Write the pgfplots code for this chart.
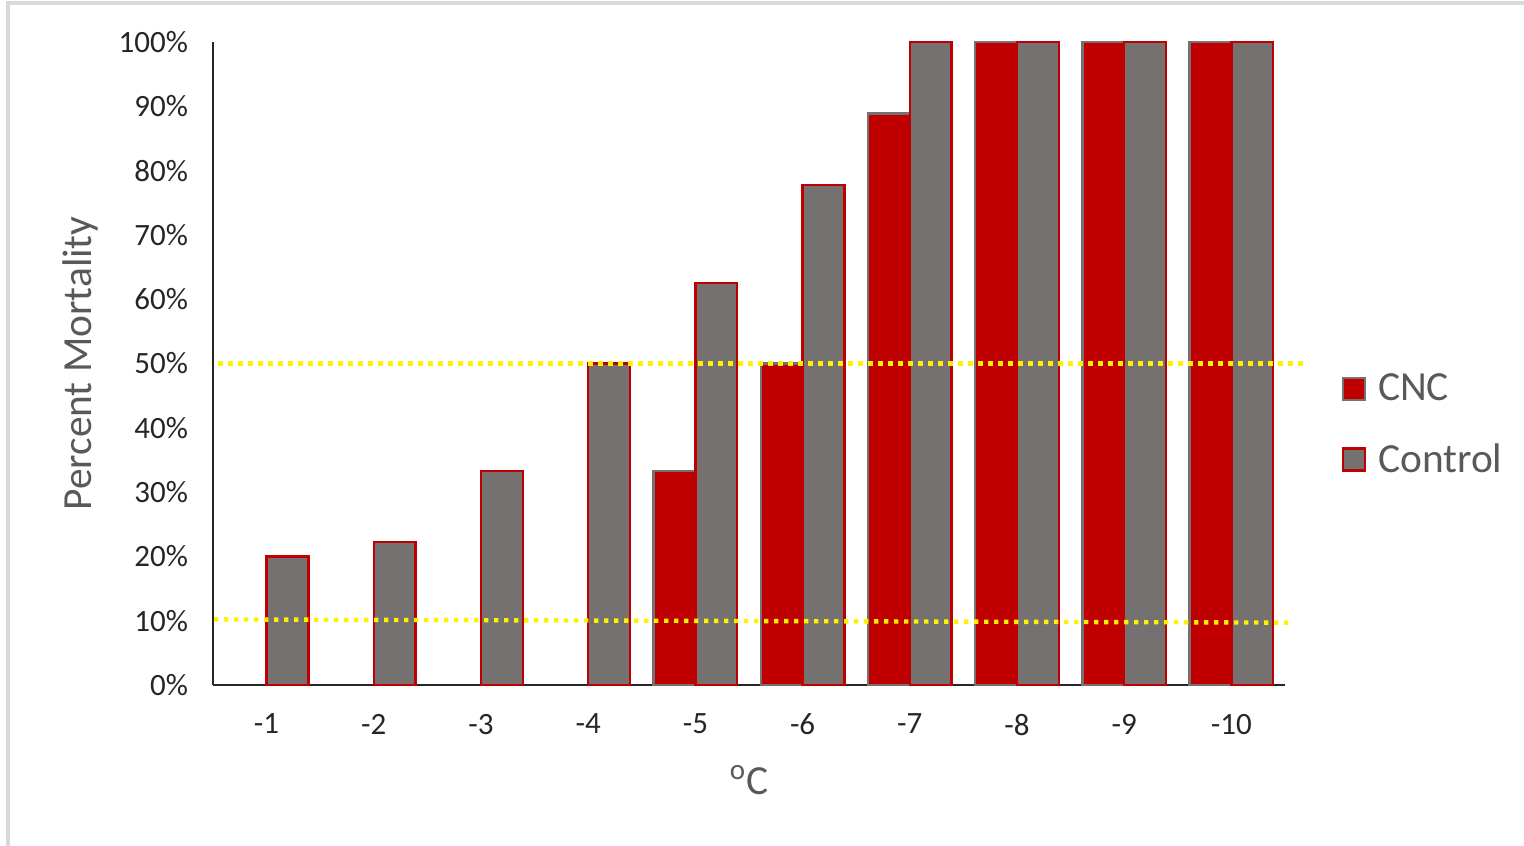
\documentclass[border=0pt]{standalone}
\usepackage{fontspec}
\setmainfont{Carlito}
\usepackage{pgfplots}
\pgfplotsset{compat=1.18}
\definecolor{cncred}{HTML}{C00000}
\definecolor{ctrlgray}{HTML}{767171}
\definecolor{labgray}{HTML}{595959}
\definecolor{ticktxt}{HTML}{262626}
\definecolor{framegray}{HTML}{D9D9D9}
\begin{document}
\begin{tikzpicture}
\begin{axis}[
    name=ax,
    at={(0,0)}, anchor=south west,
    scale only axis,
    width=536bp, height=321.5bp,
    ybar, bar width=0.39,
    xmin=-0.5, xmax=9.5,
    ymin=0, ymax=100,
    xtick={0,...,9},
    xticklabels={-1,-2,-3,-4,-5,-6,-7,-8,-9,-10},
    ytick={0,10,...,100},
    yticklabel={\pgfmathprintnumber{\tick}\%},
    /pgf/number format/assume math mode=true,
    major tick length=0pt,
    axis x line*=bottom, axis y line*=left,
    axis line style={black!85, line width=0.8bp, -},
    separate axis lines,
    tick label style={font=\fontsize{15.5bp}{18bp}\selectfont, text=ticktxt},
    yticklabel style={xshift=-9bp},
    xticklabel style={yshift=-11bp},
    xlabel={\textsuperscript{o}C},
    ylabel={Percent Mortality},
    label style={font=\fontsize{20.7bp}{24bp}\selectfont, text=labgray},
    xlabel style={at={(axis description cs:0.5,-0.148)}, anchor=center},
    ylabel style={at={(axis description cs:-0.124,0.5)}, anchor=center},
    clip=false,
    legend style={at={(axis description cs:1.047,0.405)}, anchor=west,
        draw=none, fill=none, font=\fontsize{20.7bp}{24bp}\selectfont,
        text=labgray, row sep=16bp,
        /tikz/every odd column/.append style={column sep=4bp}},
    legend cell align=left,
    legend image code/.code={\draw[#1, line width=1.2bp, bar shift=0pt] (0bp,-5.5bp) rectangle (11bp,5.5bp);},
]
\addplot[fill=cncred, draw=ctrlgray, line width=1.2bp, bar shift=-0.195] coordinates {
  (4,33.3) (5,50) (6,88.9) (7,100) (8,100) (9,100)
};
\addlegendentry{CNC}
\addplot[fill=ctrlgray, draw=cncred, line width=1.2bp, bar shift=0.195] coordinates {
  (0,20) (1,22.2) (2,33.3) (3,50) (4,62.5) (5,77.8) (6,100) (7,100) (8,100) (9,100)
};
\addlegendentry{Control}
\addplot[sharp plot, no markers, yellow, line width=2.2bp, dash pattern=on 2.2bp off 2.8bp, forget plot] coordinates {
  (-0.45,50) (9.67,50)
};
\addplot[sharp plot, no markers, yellow, line width=2.2bp, dash pattern=on 2.2bp off 2.8bp, forget plot] coordinates {
  (-0.49,10.2) (9.53,9.7)
};
\end{axis}
\draw[framegray, line width=1.8bp] (-102.5bp,-80.5bp) -- (-102.5bp,341bp) -- (655.5bp,341bp);
\pgfresetboundingbox
\path[use as bounding box] (-106.5bp,-80.5bp) rectangle (655.5bp,342.5bp);
\end{tikzpicture}
\end{document}
